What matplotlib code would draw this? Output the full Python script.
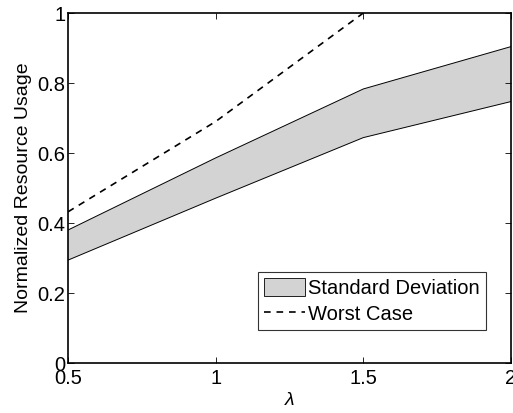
import matplotlib
matplotlib.use('Agg')
import matplotlib.pyplot as plt
from matplotlib.patches import Patch
from matplotlib.lines import Line2D

plt.rcParams['font.family'] = ['Liberation Sans', 'DejaVu Sans']

lam = [0.5, 1.0, 1.5, 2.0]
std_upper = [0.38, 0.586, 0.783, 0.904]
std_lower = [0.294, 0.471, 0.644, 0.747]
worst_case = [0.432, 0.69, 1.0, 1.35]

xticks = [0.5, 1, 1.5, 2]
xticklabels = ['0.5', '1', '1.5', '2']
yticks = [0, 0.2, 0.4, 0.6, 0.8, 1]
yticklabels = ['0', '0.2', '0.4', '0.6', '0.8', '1']

fig = plt.figure(figsize=(5.13, 4.13), dpi=100)
ax = fig.add_axes([0.1326, 0.121, 0.8634, 0.8475])

ax.fill_between(lam, std_lower, std_upper, facecolor='#d3d3d3', edgecolor='none')
ax.plot(lam, std_upper, color='black', lw=0.7)
ax.plot(lam, std_lower, color='black', lw=0.7)
ax.plot(lam, worst_case, color='black', lw=1.2, ls=(0, (4, 3.5)))

ax.set_xlim(0.5, 2)
ax.set_ylim(0, 1)
ax.set_xticks(xticks)
ax.set_xticklabels(xticklabels)
ax.set_yticks(yticks)
ax.set_yticklabels(yticklabels)
ax.tick_params(direction='in', length=4, width=0.6, labelsize=14.5,
               top=True, right=True)
ax.tick_params(axis='x', pad=4.2)
ax.tick_params(axis='y', pad=2)
for s in ax.spines.values():
    s.set_linewidth(1.2)

ax.set_ylabel('Normalized Resource Usage', fontsize=14, labelpad=4)
ax.set_xlabel('λ', fontsize=14, fontstyle='italic', labelpad=3)

handles = [Patch(facecolor='#d3d3d3', edgecolor='black', lw=0.6),
           Line2D([0], [0], color='black', lw=1.2, ls=(0, (4, 3.5)))]
leg = ax.legend(handles, ['Standard Deviation', 'Worst Case'],
                loc='lower right', bbox_to_anchor=(0.9436, 0.094),
                fontsize=14.5, frameon=True, fancybox=False,
                handlelength=2.05, handleheight=1.0, handletextpad=0.15,
                labelspacing=0.3, borderpad=0.3, borderaxespad=0.0)
leg.get_frame().set_edgecolor('black')
leg.get_frame().set_linewidth(0.8)

fig.savefig('out.png', dpi=100)
